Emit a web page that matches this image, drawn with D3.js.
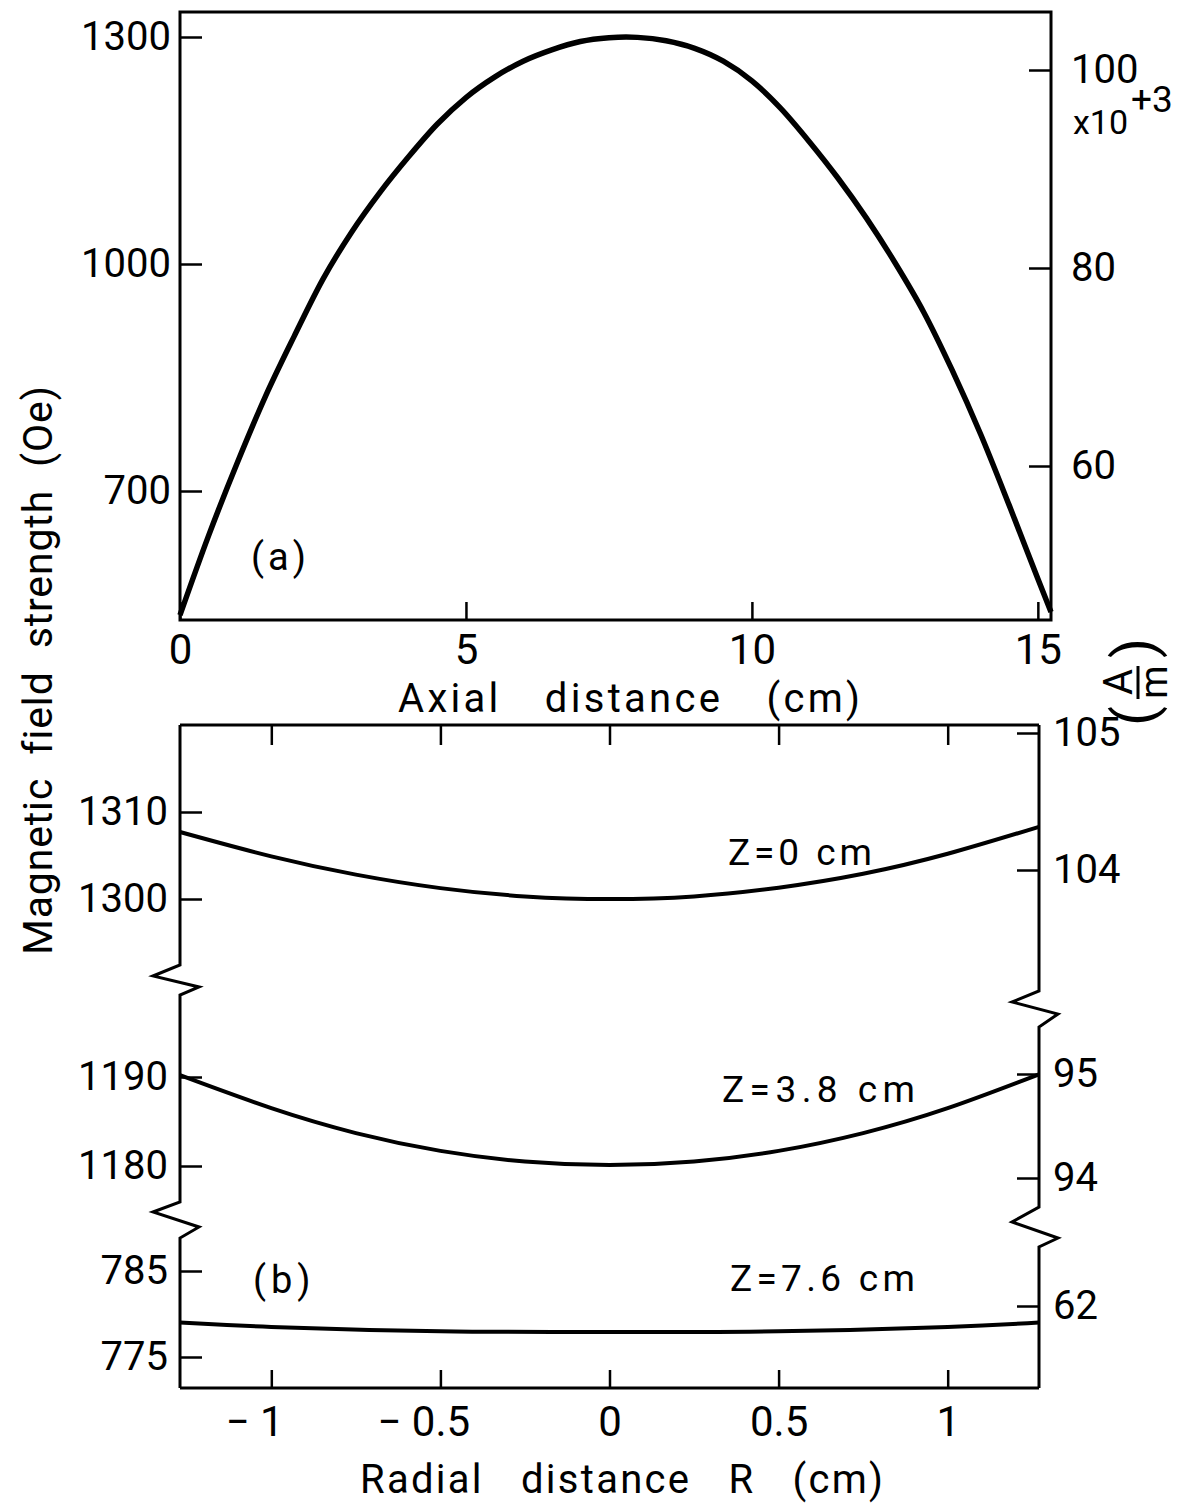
<!DOCTYPE html>
<html>
<head>
<meta charset="utf-8">
<script src="https://d3js.org/d3.v7.min.js"></script>
<style>
  body { margin: 0; background: #fff; }
  text { font-family: Roboto, "DejaVu Sans", sans-serif; fill: #000; }
</style>
</head>
<body>
<script>
// (a) field along the axis: distance (cm) vs H (Oe)
var axialZ = [0, 0.5, 1.0, 1.5, 2.0, 2.5, 3.0, 3.5, 4.0, 4.5, 5.0, 5.5, 6.0, 6.5, 7.0, 7.5, 7.8,
              8.0, 8.5, 9.0, 9.5, 10.0, 10.5, 11.0, 11.5, 12.0, 12.5, 13.0, 13.5, 14.0, 14.5, 15.0, 15.23];
var axialH = [536, 641, 737, 826, 905, 980, 1042, 1095, 1142, 1185, 1220, 1247, 1268, 1283, 1294, 1299, 1300,
              1299.5, 1295, 1285, 1268, 1242, 1206, 1162, 1114, 1061, 1002, 937, 860, 775, 681, 584, 540];

// (b) radial profiles at three axial positions
var radR = [-1.27, -1.0, -0.75, -0.5, -0.25, 0, 0.25, 0.5, 0.75, 1.0, 1.27];
var radH0 = [1307.7, 1304.9, 1302.8, 1301.25, 1300.3, 1300.0, 1300.3, 1301.3, 1302.9, 1305.2, 1308.3];
var radH38 = [1190.2, 1186.5, 1183.7, 1181.7, 1180.5, 1180.1, 1180.5, 1181.7, 1183.7, 1186.5, 1190.3];
var radR76 = [-1.27, -1.0, -0.5, 0, 0.5, 1.0, 1.27];
var radH76 = [779.0, 778.5, 778.0, 777.9, 778.0, 778.5, 779.0];

var curveLabels = ["Z=0 cm", "Z=3.8 cm", "Z=7.6 cm"];

// tick values
var axialTicks = [0, 5, 10, 15];
var oeTicksA = [700, 1000, 1300];
var amTicksA = [60, 80, 100];
var radTicks = [-1, -0.5, 0, 0.5, 1];
var oeTicksB = [[1300, 1310], [1180, 1190], [775, 785]];
var amTicksB = [[104, 105], [94, 95], [62]];

var FONT = 'Roboto, "DejaVu Sans", sans-serif';
var intFmt = d3.format("d");

var svg = d3.select("body").append("svg")
  .attr("width", 1199)
  .attr("height", 1503);

function styleAxis(g, fs) {
  g.attr("font-size", fs).attr("font-family", FONT);
  g.select(".domain").remove();
  g.selectAll(".tick line").attr("stroke-width", 2.5);
  g.selectAll(".tick text").attr("fill", "#000");
}

// ---------- panel (a) ----------
var ax = { l: 180, r: 1051, t: 12, b: 620 };
var xA = d3.scaleLinear().domain([0, 15.23]).range([ax.l, ax.r]);
var yA = d3.scaleLinear().domain([1000, 1300]).range([264, 37]);
var yAR = d3.scaleLinear().domain([60, 100]).range([466, 70]);

svg.append("rect")
  .attr("x", ax.l).attr("y", ax.t)
  .attr("width", ax.r - ax.l).attr("height", ax.b - ax.t)
  .attr("fill", "none").attr("stroke", "#000").attr("stroke-width", 3);

svg.append("g")
  .attr("transform", "translate(0," + ax.b + ")")
  .call(d3.axisBottom(xA).tickValues(axialTicks).tickFormat(intFmt)
    .tickSizeInner(-18).tickSizeOuter(0).tickPadding(14))
  .call(styleAxis, 42);

svg.append("g")
  .attr("transform", "translate(" + ax.l + ",0)")
  .call(d3.axisLeft(yA).tickValues(oeTicksA).tickFormat(intFmt)
    .tickSizeInner(-22).tickSizeOuter(0).tickPadding(9))
  .call(styleAxis, 40);

svg.append("g")
  .attr("transform", "translate(" + ax.r + ",0)")
  .call(d3.axisRight(yAR).tickValues(amTicksA).tickFormat(intFmt)
    .tickSizeInner(-22).tickSizeOuter(0).tickPadding(20))
  .call(styleAxis, 40);

var mult = svg.append("text").attr("x", 1073).attr("y", 134).attr("font-size", 34);
mult.append("tspan").text("x10");
mult.append("tspan").attr("dx", 3).attr("dy", -22).attr("font-size", 37).text("+3");

svg.append("path")
  .datum(d3.zip(axialZ, axialH))
  .attr("fill", "none").attr("stroke", "#000").attr("stroke-width", 5.5)
  .attr("d", d3.line()
    .x(function (d) { return xA(d[0]); })
    .y(function (d) { return yA(d[1]); })
    .curve(d3.curveMonotoneX));

svg.append("text").attr("x", 251).attr("y", 570).attr("font-size", 38)
  .attr("letter-spacing", 4).text("(a)");

svg.append("text")
  .attr("x", 398).attr("y", 712).attr("font-size", 40)
  .attr("letter-spacing", 2).attr("word-spacing", 30)
  .attr("textLength", 464).attr("lengthAdjust", "spacing")
  .text("Axial distance (cm)");

// ---------- panel (b) ----------
var bx = { l: 180, r: 1039, t: 725, b: 1388 };
var xB = d3.scaleLinear().domain([-1.27, 1.27]).range([bx.l, bx.r]);

var yBL = [
  d3.scaleLinear().domain([1300, 1310]).range([899, 812]),
  d3.scaleLinear().domain([1180, 1190]).range([1166, 1077]),
  d3.scaleLinear().domain([775, 785]).range([1357, 1271])
];
var yBR = [
  d3.scaleLinear().domain([104, 105]).range([870, 733]),
  d3.scaleLinear().domain([94, 95]).range([1178, 1074]),
  d3.scaleLinear().domain([61, 62]).range([1414, 1306])
];

// frame top/bottom
svg.append("line").attr("x1", bx.l).attr("x2", bx.r).attr("y1", bx.t).attr("y2", bx.t)
  .attr("stroke", "#000").attr("stroke-width", 3);
svg.append("line").attr("x1", bx.l).attr("x2", bx.r).attr("y1", bx.b).attr("y2", bx.b)
  .attr("stroke", "#000").attr("stroke-width", 3);

// broken side axes
function brokenSpine(x, breaks) {
  var pts = [[x, bx.t]];
  breaks.forEach(function (b) {
    pts.push([x, b[0]], [x - 27, b[1]], [x + 19, b[2]], [x, b[3]]);
  });
  pts.push([x, bx.b]);
  svg.append("path")
    .attr("d", d3.line()(pts))
    .attr("fill", "none").attr("stroke", "#000").attr("stroke-width", 3)
    .attr("stroke-linejoin", "miter");
}
brokenSpine(bx.l, [[965, 976, 987, 995], [1202, 1212, 1227, 1238]]);
brokenSpine(bx.r, [[991, 1002, 1014, 1027], [1207, 1222, 1238, 1247]]);

yBL.forEach(function (s, i) {
  svg.append("g")
    .attr("transform", "translate(" + bx.l + ",0)")
    .call(d3.axisLeft(s).tickValues(oeTicksB[i]).tickFormat(intFmt)
      .tickSizeInner(-22).tickSizeOuter(0).tickPadding(12))
    .call(styleAxis, 40);
});
yBR.forEach(function (s, i) {
  svg.append("g")
    .attr("transform", "translate(" + bx.r + ",0)")
    .call(d3.axisRight(s).tickValues(amTicksB[i]).tickFormat(intFmt)
      .tickSizeInner(-22).tickSizeOuter(0).tickPadding(14))
    .call(styleAxis, 40);
});

svg.append("g")
  .attr("transform", "translate(0," + bx.t + ")")
  .call(d3.axisTop(xB).tickValues(radTicks).tickSizeInner(-20).tickSizeOuter(0).tickFormat(""))
  .call(styleAxis, 40);

var bottomAx = svg.append("g")
  .attr("transform", "translate(0," + bx.b + ")")
  .call(d3.axisBottom(xB).tickValues(radTicks).tickSizeInner(-18).tickSizeOuter(0).tickPadding(18)
    .tickFormat(function (d) { return d < 0 ? "\u2212 " + Math.abs(d) : String(d); }))
  .call(styleAxis, 42);
// digits sit under the tick, minus sign hangs to the left
bottomAx.selectAll(".tick text")
  .attr("text-anchor", function (d) { return d < 0 ? "start" : "middle"; })
  .each(function (d) {
    if (d < 0) {
      var self = d3.select(this);
      var w = this.getComputedTextLength();
      var digits = String(Math.abs(d));
      self.text(digits);
      var dw = this.getComputedTextLength();
      self.text("\u2212 " + digits);
      self.attr("dx", -(w - dw) - dw / 2);
    }
  });

var radSeries = [
  { r: radR, h: radH0, s: yBL[0] },
  { r: radR, h: radH38, s: yBL[1] },
  { r: radR76, h: radH76, s: yBL[2] }
];
radSeries.forEach(function (ser) {
  svg.append("path")
    .datum(d3.zip(ser.r, ser.h))
    .attr("fill", "none").attr("stroke", "#000").attr("stroke-width", 4)
    .attr("d", d3.line()
      .x(function (d) { return xB(d[0]); })
      .y(function (d) { return ser.s(d[1]); })
      .curve(d3.curveNatural));
});

var labelPos = [[728, 865, 144], [722, 1102, 193], [730, 1291, 185]];
curveLabels.forEach(function (t, i) {
  svg.append("text")
    .attr("x", labelPos[i][0]).attr("y", labelPos[i][1])
    .attr("font-size", 37)
    .attr("textLength", labelPos[i][2]).attr("lengthAdjust", "spacing")
    .text(t);
});

svg.append("text").attr("x", 253).attr("y", 1293).attr("font-size", 38)
  .attr("letter-spacing", 5).text("(b)");

svg.append("text")
  .attr("x", 360).attr("y", 1493).attr("font-size", 40)
  .attr("letter-spacing", 2).attr("word-spacing", 25)
  .attr("textLength", 525).attr("lengthAdjust", "spacing")
  .text("Radial distance R (cm)");

// ---------- shared axis titles ----------
svg.append("text")
  .attr("transform", "translate(52,670) rotate(-90)")
  .attr("text-anchor", "middle").attr("font-size", 41)
  .attr("letter-spacing", 1).attr("word-spacing", 12)
  .attr("textLength", 570).attr("lengthAdjust", "spacing")
  .text("Magnetic field strength (Oe)");

// A/m unit, written as a stacked fraction and turned on its side
var unit = svg.append("g").attr("transform", "translate(1137,682) rotate(-90)");
unit.append("text").attr("x", 0).attr("y", -5).attr("text-anchor", "middle").attr("font-size", 40).text("A");
unit.append("line").attr("x1", -17).attr("x2", 16).attr("y1", 1).attr("y2", 1)
  .attr("stroke", "#000").attr("stroke-width", 3);
unit.append("text").attr("x", 0).attr("y", 30).attr("text-anchor", "middle").attr("font-size", 38).text("m");
unit.append("text").attr("x", -34).attr("y", 17).attr("text-anchor", "middle").attr("font-size", 58).text("(");
unit.append("text").attr("x", 34).attr("y", 17).attr("text-anchor", "middle").attr("font-size", 58).text(")");
</script>
</body>
</html>
